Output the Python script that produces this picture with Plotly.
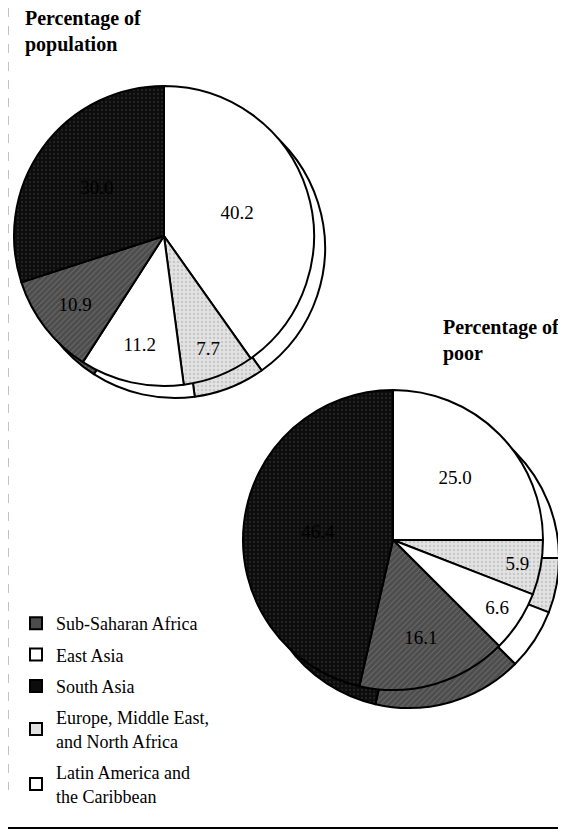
import plotly.graph_objects as go

# ---- data ----
regions = ["East Asia", "Europe, Middle East, and North Africa",
           "Latin America and the Caribbean", "Sub-Saharan Africa", "South Asia"]
pct_population = [40.2, 7.7, 11.2, 10.9, 30.0]
pct_poor = [25.0, 5.9, 6.6, 16.1, 46.4]

legend_order = ["Sub-Saharan Africa", "East Asia", "South Asia",
                "Europe, Middle East, and North Africa", "Latin America and the Caribbean"]
legend_text = ["Sub-Saharan Africa", "East Asia", "South Asia",
               "Europe, Middle East,<br>and North Africa", "Latin America and<br>the Caribbean"]

colors = {"East Asia": "#ffffff",
          "Europe, Middle East, and North Africa": "#e2e2e2",
          "Latin America and the Caribbean": "#ffffff",
          "Sub-Saharan Africa": "#4c4c4c",
          "South Asia": "#0c0c0c"}
patterns = {"East Asia": "",
            "Europe, Middle East, and North Africa": ".",
            "Latin America and the Caribbean": "",
            "Sub-Saharan Africa": "/",
            "South Asia": "."}
pat_fg = {"East Asia": "#ffffff",
          "Europe, Middle East, and North Africa": "#a8a8a8",
          "Latin America and the Caribbean": "#ffffff",
          "Sub-Saharan Africa": "#8c8c8c",
          "South Asia": "#3a3a3a"}

# page body has an 8px margin: work in screen pixels and shift
OFF = 8
W, H = 566 - OFF, 832 - OFF
SERIF = "Liberation Serif, DejaVu Serif, serif"


def px(x):
    return (x - OFF) / W


def py(y):
    return 1 - (y - OFF) / H


def dom(cx, cy, r):
    return dict(x=[px(cx - r), px(cx + r)], y=[py(cy + r), py(cy - r)])


def pie(values, d, show_text):
    return go.Pie(
        labels=regions, values=values, sort=False, direction="clockwise", rotation=0,
        domain=d, showlegend=False, hoverinfo="label+value",
        marker=dict(colors=[colors[r] for r in regions],
                    line=dict(color="#000000", width=2),
                    pattern=dict(shape=[patterns[r] for r in regions],
                                 fgcolor=[pat_fg[r] for r in regions],
                                 fillmode="overlay",
                                 size=4, solidity=0.25)),
        textinfo="value" if show_text else "none",
        texttemplate="%{value:.1f}" if show_text else None,
        textposition="inside", insidetextorientation="horizontal",
        textfont=dict(family=SERIF, size=19, color="#000000"),
    )


fig = go.Figure()
# rims (3-D depth) drawn first, behind
fig.add_trace(pie(pct_population, dom(175, 248, 150), False))
fig.add_trace(pie(pct_poor, dom(409, 558, 150), False))
# faces
fig.add_trace(pie(pct_population, dom(164, 236, 150), True))
fig.add_trace(pie(pct_poor, dom(393, 540, 150), True))

# legend entries
for i, (name, txt) in enumerate(zip(legend_order, legend_text)):
    fig.add_trace(go.Scatter(
        x=[None], y=[None], mode="markers", name=txt, legendgroup=str(i),
        marker=dict(symbol="square", size=15, color=colors[name],
                    line=dict(color="#000000", width=2)),
    ))

fig.update_layout(
    width=W, height=H, margin=dict(l=0, r=0, t=0, b=0),
    paper_bgcolor="white", plot_bgcolor="white",
    xaxis=dict(visible=False), yaxis=dict(visible=False),
    legend=dict(x=16 / W - 8 / W, y=1 - 597 / H, xanchor="left", yanchor="top",
                font=dict(family=SERIF, size=18, color="#000000"),
                tracegroupgap=5, itemsizing="constant", bgcolor="rgba(0,0,0,0)"),
    annotations=[
        dict(text="<b>Percentage of<br>population</b>", x=px(23), y=py(5),
             xref="paper", yref="paper", xanchor="left", yanchor="top", align="left",
             showarrow=False, font=dict(family=SERIF, size=20, color="#000000")),
        dict(text="<b>Percentage of<br>poor</b>", x=px(441), y=py(314),
             xref="paper", yref="paper", xanchor="left", yanchor="top", align="left",
             showarrow=False, font=dict(family=SERIF, size=20, color="#000000")),
    ],
    shapes=[
        dict(type="line", xref="paper", yref="paper", x0=0, x1=1,
             y0=py(828), y1=py(828), line=dict(color="#000000", width=2)),
        dict(type="line", xref="paper", yref="paper", x0=0, x1=0,
             y0=1, y1=py(790), line=dict(color="#888888", width=1, dash="dash")),
    ],
)

fig.write_html("out.html")
